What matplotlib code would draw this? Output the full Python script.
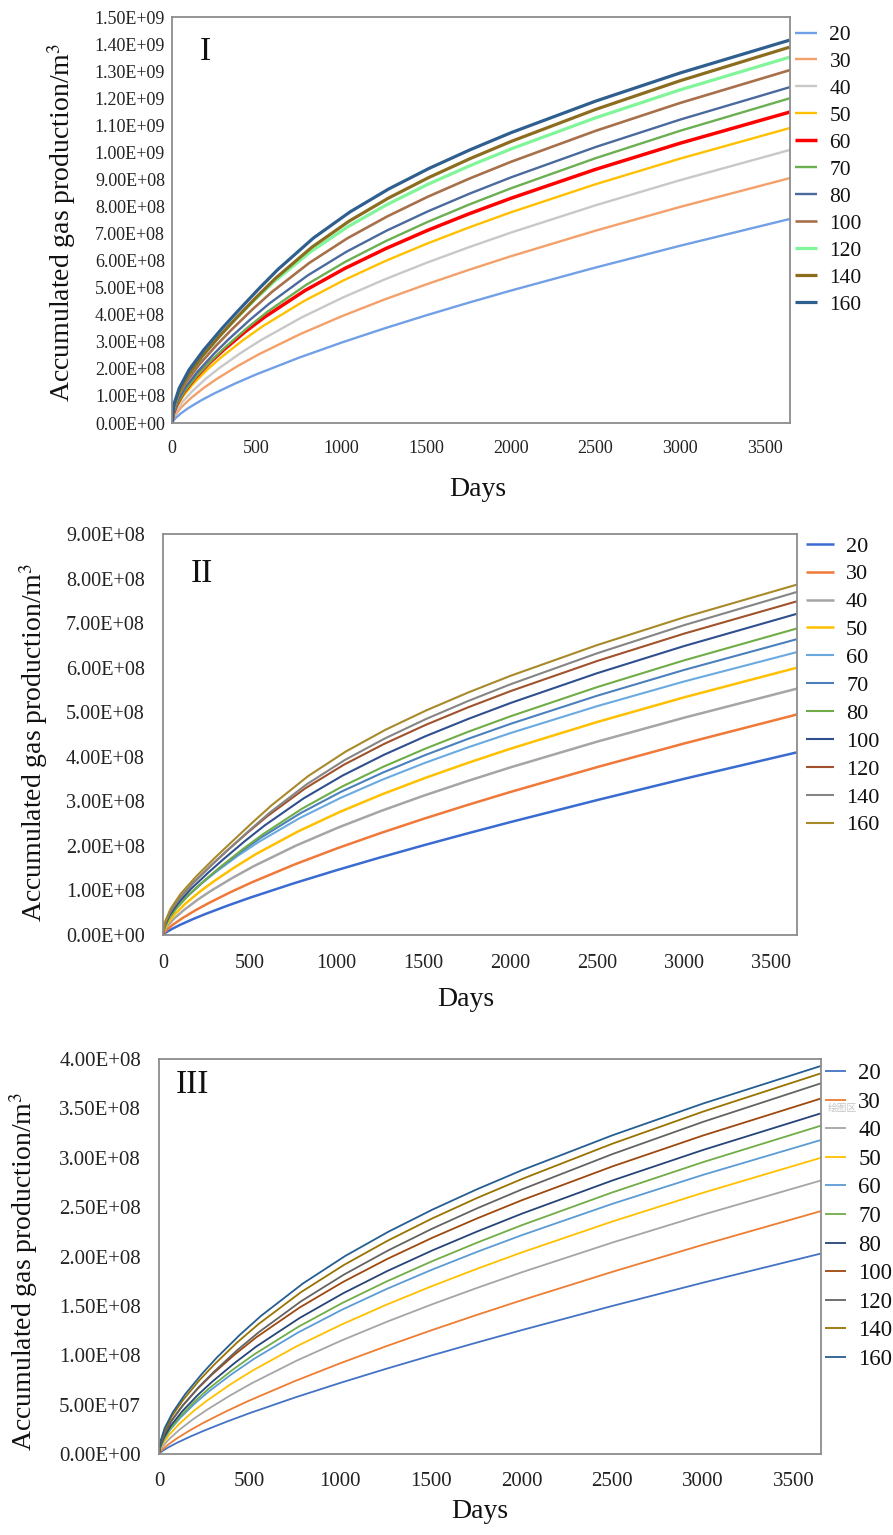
import matplotlib
matplotlib.use("Agg")
import matplotlib.pyplot as plt
from matplotlib.ticker import FuncFormatter, MultipleLocator

plt.rcParams['font.family'] = ['Liberation Serif', 'DejaVu Serif']
plt.rcParams['mathtext.fontset'] = 'stix'

# ---------------- data (values in 1e8 m^3) ----------------
SCALE = 1e8
labels = ["20", "30", "40", "50", "60", "70", "80", "100", "120", "140", "160"]

# sampling days (x positions read for each curve family)
day_sets = [
    [0, 5, 20, 50, 100, 175, 250, 375, 500, 750, 1000, 1250, 1500, 1750, 2000, 2500, 3000, 3650],
    [0, 6, 22, 55, 109, 187, 264, 389, 512, 758, 1005, 1253, 1502, 1751, 2000, 2500, 3000, 3650],
    [0, 6, 25, 60, 118, 199, 277, 403, 525, 767, 1010, 1256, 1503, 1752, 2001, 2500, 3000, 3650],
    [0, 7, 27, 65, 126, 211, 291, 417, 537, 776, 1016, 1259, 1505, 1753, 2001, 2500, 3000, 3650],
    [0, 7, 29, 70, 135, 223, 305, 430, 550, 784, 1021, 1262, 1506, 1753, 2002, 2500, 3000, 3650],
    [0, 8, 31, 76, 144, 236, 318, 444, 562, 793, 1026, 1265, 1508, 1754, 2002, 2501, 3000, 3650],
    [0, 9, 34, 81, 153, 248, 332, 458, 575, 801, 1031, 1268, 1510, 1755, 2003, 2501, 3000, 3650],
    [0, 9, 36, 86, 161, 260, 346, 472, 587, 810, 1036, 1271, 1511, 1756, 2003, 2501, 3000, 3650],
    [0, 10, 38, 91, 170, 272, 359, 486, 600, 818, 1041, 1274, 1513, 1757, 2004, 2501, 3000, 3650],
    [0, 10, 40, 96, 179, 284, 373, 500, 612, 827, 1047, 1277, 1515, 1758, 2004, 2501, 3000, 3650],
    [0, 11, 43, 101, 188, 296, 387, 514, 625, 835, 1052, 1279, 1516, 1759, 2004, 2501, 3000, 3650],
]
days_idx_I = [0, 1, 2, 3, 4, 5, 6, 7, 8, 9, 10]
days_idx_II = [0, 1, 2, 3, 4, 5, 6, 7, 8, 9, 10]
days_idx_III = [0, 0, 1, 1, 2, 2, 3, 3, 4, 4, 5]

gas_I = [
    [0, 0.0654, 0.178, 0.3435, 0.566, 0.8463, 1.094, 1.4649, 1.802, 2.4132, 2.968, 3.4859, 3.975, 4.4413, 4.890, 5.741, 6.547, 7.54],
    [0, 0.1330, 0.323, 0.5811, 0.905, 1.2952, 1.627, 2.1093, 2.536, 3.2873, 3.951, 4.5584, 5.122, 5.6536, 6.158, 7.103, 7.982, 9.05],
    [0, 0.1931, 0.444, 0.7692, 1.165, 1.6306, 2.020, 2.5758, 3.061, 3.9045, 4.639, 5.3048, 5.918, 6.4914, 7.033, 8.040, 8.970, 10.09],
    [0, 0.2716, 0.591, 0.9865, 1.454, 1.9891, 2.429, 3.0477, 3.581, 4.4935, 5.279, 5.9816, 6.625, 7.2218, 7.783, 8.818, 9.766, 10.90],
    [0, 0.3267, 0.691, 1.1330, 1.647, 2.2281, 2.701, 3.3623, 3.927, 4.8890, 5.711, 6.4420, 7.109, 7.7254, 8.303, 9.367, 10.335, 11.49],
    [0, 0.3412, 0.721, 1.1833, 1.720, 2.3270, 2.821, 3.5116, 4.102, 5.1060, 5.964, 6.7279, 7.424, 8.0683, 8.671, 9.782, 10.794, 12.00],
    [0, 0.4026, 0.828, 1.3335, 1.911, 2.5573, 3.079, 3.8007, 4.414, 5.4502, 6.330, 7.1084, 7.816, 8.4676, 9.077, 10.194, 11.207, 12.41],
    [0, 0.4826, 0.965, 1.5266, 2.158, 2.8555, 3.413, 4.1796, 4.826, 5.9110, 6.825, 7.6311, 8.360, 9.0292, 9.652, 10.792, 11.822, 13.04],
    [0, 0.5709, 1.110, 1.7246, 2.405, 3.1461, 3.733, 4.5351, 5.207, 6.3256, 7.263, 8.0835, 8.823, 9.5002, 10.129, 11.274, 12.306, 13.52],
    [0, 0.5866, 1.140, 1.7718, 2.471, 3.2322, 3.835, 4.6593, 5.349, 6.4987, 7.462, 8.3047, 9.065, 9.7602, 10.406, 11.583, 12.643, 13.89],
    [0, 0.6817, 1.290, 1.9667, 2.704, 3.4989, 4.122, 4.9675, 5.670, 6.8332, 7.801, 8.6434, 9.400, 10.0901, 10.730, 11.890, 12.930, 14.15],
]

gas_II = [
    [0, 0.0210, 0.064, 0.1326, 0.231, 0.3609, 0.480, 0.6640, 0.836, 1.1562, 1.455, 1.7398, 2.013, 2.2771, 2.534, 3.029, 3.505, 4.10],
    [0, 0.0430, 0.117, 0.2255, 0.371, 0.5556, 0.718, 0.9617, 1.183, 1.5842, 1.949, 2.2885, 2.610, 2.9157, 3.210, 3.769, 4.298, 4.95],
    [0, 0.0813, 0.197, 0.3551, 0.553, 0.7915, 0.994, 1.2889, 1.550, 2.0087, 2.414, 2.7854, 3.130, 3.4546, 3.763, 4.340, 4.877, 5.53],
    [0, 0.1148, 0.264, 0.4574, 0.693, 0.9697, 1.201, 1.5317, 1.820, 2.3218, 2.759, 3.1545, 3.519, 3.8601, 4.182, 4.781, 5.334, 6.00],
    [0, 0.1582, 0.344, 0.5747, 0.847, 1.1588, 1.415, 1.7755, 2.086, 2.6178, 3.075, 3.4847, 3.860, 4.2072, 4.534, 5.137, 5.690, 6.35],
    [0, 0.1655, 0.360, 0.6009, 0.886, 1.2117, 1.479, 1.8566, 2.181, 2.7373, 3.216, 3.6438, 4.036, 4.3993, 4.741, 5.372, 5.949, 6.64],
    [0, 0.1714, 0.373, 0.6226, 0.918, 1.2555, 1.533, 1.9237, 2.260, 2.8363, 3.332, 3.7755, 4.182, 4.5583, 4.912, 5.566, 6.164, 6.88],
    [0, 0.2050, 0.433, 0.7110, 1.033, 1.3982, 1.695, 2.1099, 2.464, 3.0679, 3.583, 4.0424, 4.461, 4.8477, 5.210, 5.878, 6.485, 7.21],
    [0, 0.2430, 0.500, 0.8048, 1.153, 1.5435, 1.858, 2.2939, 2.664, 3.2895, 3.821, 4.2903, 4.717, 5.1106, 5.478, 6.152, 6.764, 7.49],
    [0, 0.2498, 0.514, 0.8274, 1.186, 1.5867, 1.910, 2.3582, 2.739, 3.3817, 3.928, 4.4106, 4.849, 5.2539, 5.632, 6.325, 6.954, 7.70],
    [0, 0.2911, 0.582, 0.9208, 1.302, 1.7223, 2.058, 2.5209, 2.911, 3.5652, 4.117, 4.6027, 5.042, 5.4459, 5.822, 6.509, 7.130, 7.865],
]

gas_III = [
    [0, 0.0104, 0.0315, 0.0656, 0.1143, 0.1787, 0.2377, 0.3288, 0.4139, 0.5724, 0.7204, 0.8614, 0.9967, 1.1274, 1.2545, 1.4996, 1.7352, 2.03],
    [0, 0.0164, 0.0470, 0.0944, 0.1599, 0.2445, 0.3208, 0.4364, 0.5432, 0.7390, 0.9195, 1.0896, 1.2516, 1.4070, 1.5572, 1.8450, 2.1193, 2.46],
    [0, 0.0313, 0.0803, 0.1498, 0.2399, 0.3511, 0.4474, 0.5894, 0.7169, 0.9445, 1.1484, 1.3367, 1.5133, 1.6803, 1.8401, 2.1415, 2.4240, 2.77],
    [0, 0.0441, 0.1071, 0.1926, 0.3000, 0.4294, 0.5394, 0.6992, 0.8406, 1.0897, 1.3098, 1.5111, 1.6980, 1.8741, 2.0412, 2.3547, 2.6460, 3.00],
    [0, 0.0609, 0.1399, 0.2424, 0.3673, 0.5139, 0.6366, 0.8118, 0.9648, 1.2306, 1.4622, 1.6719, 1.8651, 2.0459, 2.2165, 2.5338, 2.8270, 3.18],
    [0, 0.0636, 0.1463, 0.2535, 0.3840, 0.5374, 0.6657, 0.8488, 1.0088, 1.2867, 1.5288, 1.7481, 1.9501, 2.1391, 2.3175, 2.6494, 2.9559, 3.325],
    [0, 0.0753, 0.1684, 0.2866, 0.4281, 0.5925, 0.7286, 0.9217, 1.0892, 1.3780, 1.6281, 1.8531, 2.0600, 2.2524, 2.4340, 2.7700, 3.0791, 3.45],
    [0, 0.0897, 0.1951, 0.3258, 0.4802, 0.6570, 0.8021, 1.0066, 1.1826, 1.4841, 1.7435, 1.9756, 2.1881, 2.3852, 2.5704, 2.9124, 3.2256, 3.60],
    [0, 0.0936, 0.2035, 0.3397, 0.5008, 0.6851, 0.8364, 1.0497, 1.2332, 1.5476, 1.8181, 2.0601, 2.2817, 2.4872, 2.6804, 3.0370, 3.3636, 3.754],
    [0, 0.1096, 0.2317, 0.3801, 0.5524, 0.7476, 0.9063, 1.1281, 1.3176, 1.6403, 1.9159, 2.1613, 2.3851, 2.5920, 2.7856, 3.1426, 3.4676, 3.855],
    [0, 0.1275, 0.2621, 0.4223, 0.6052, 0.8099, 0.9750, 1.2036, 1.3979, 1.7260, 2.0047, 2.2511, 2.4751, 2.6815, 2.8744, 3.2281, 3.5492, 3.93],
]

colors_I = ["#72A0E6", "#F4A06A", "#C8C8C8", "#FFC000", "#FF0000", "#6BAF52",
            "#4A6A9E", "#A8704A", "#80F59A", "#8C6D1F", "#2E5F8F"]
widths_I = [1.7, 1.7, 1.7, 1.7, 2.5, 1.7, 1.7, 1.9, 2.3, 2.3, 2.3]
colors_II = ["#3A6BD0", "#F07838", "#A5A5A5", "#FFC000", "#6AAAE0", "#4A80BB",
             "#70AD47", "#2F4F8F", "#A0522D", "#858585", "#A88A2A"]
widths_II = [1.8, 1.8, 1.8, 1.8, 1.5, 1.5, 1.5, 1.5, 1.5, 1.5, 1.5]
colors_III = ["#4472C4", "#ED7D31", "#A5A5A5", "#FFC000", "#5B9BD5", "#70AD47",
              "#264478", "#9E480E", "#636363", "#997300", "#255E91"]
widths_III = [1.3] * 11

W, H = 893, 1535
fig = plt.figure(figsize=(W / 100, H / 100), dpi=100)


def px_axes(l, t, r, b):
    return fig.add_axes([l / W, 1 - b / H, (r - l) / W, (b - t) / H])


def sci(v, pos):
    return f"{v:.2E}"


panels = [
    dict(box=(172, 17, 790, 423), data=gas_I, didx=days_idx_I, colors=colors_I,
         widths=widths_I, ymax=1.5e9, ystep=1e8, tick_fs=13, ypad=5, xpad=12,
         roman="I", roman_xy=(0.045, 0.915), ylab_x=62, ylab_y=222, xlab_y=490,
         xlab_x=478, leg=(795, 25), leg_fs=15.5, leg_sp=0.32, leg_hl=1.0, leg_tp=0.6),
    dict(box=(163, 534, 797, 935), data=gas_II, didx=days_idx_II, colors=colors_II,
         widths=widths_II, ymax=9e8, ystep=1e8, tick_fs=14.5, ypad=13, xpad=14,
         roman="II", roman_xy=(0.043, 0.90), ylab_x=34, ylab_y=742, xlab_y=1000,
         xlab_x=466, leg=(806, 536), leg_fs=16, leg_sp=0.33, leg_hl=1.25, leg_tp=0.55),
    dict(box=(159, 1059, 821, 1454), data=gas_III, didx=days_idx_III, colors=colors_III,
         widths=widths_III, ymax=4e8, ystep=5e7, tick_fs=15, ypad=13, xpad=13,
         roman="III", roman_xy=(0.025, 0.934), ylab_x=24, ylab_y=1271, xlab_y=1512,
         xlab_x=480, leg=(825, 1063), leg_fs=16.5, leg_sp=0.33, leg_hl=0.9, leg_tp=0.55),
]

for p in panels:
    l, t, r, b = p["box"]
    ax = px_axes(l, t, r, b)
    for vals, di, lab, c, lw in zip(p["data"], p["didx"], labels, p["colors"], p["widths"]):
        ax.plot(day_sets[di], [v * SCALE for v in vals], color=c, lw=lw, label=lab,
                solid_capstyle='butt', solid_joinstyle='round')
    ax.set_xlim(0, 3650)
    ax.set_ylim(0, p["ymax"])
    ax.xaxis.set_major_locator(MultipleLocator(500))
    ax.yaxis.set_major_locator(MultipleLocator(p["ystep"]))
    ax.yaxis.set_major_formatter(FuncFormatter(sci))
    ax.tick_params(axis='both', length=0, labelsize=p["tick_fs"], colors='#222222')
    ax.tick_params(axis='y', pad=p["ypad"])
    ax.tick_params(axis='x', pad=p["xpad"])
    for s in ax.spines.values():
        s.set_color('#8C8C8C')
        s.set_linewidth(1.3)
    ax.text(p["roman_xy"][0], p["roman_xy"][1], p["roman"], transform=ax.transAxes,
            fontsize=24, ha='left', va='center', color='#111111')
    fig.text(p["ylab_x"] / W, 1 - p["ylab_y"] / H,
             "Accumulated gas production/m$^3$", rotation=90,
             ha='center', va='center', fontsize=20, color='#111111')
    fig.text(p["xlab_x"] / W, 1 - p["xlab_y"] / H, "Days",
             ha='center', va='center', fontsize=20, color='#111111')
    leg = ax.legend(loc='upper left',
                    bbox_to_anchor=(p["leg"][0] / W, 1 - p["leg"][1] / H),
                    bbox_transform=fig.transFigure, frameon=False,
                    fontsize=p["leg_fs"], labelspacing=p["leg_sp"],
                    handlelength=p["leg_hl"], handletextpad=p["leg_tp"],
                    borderaxespad=0, borderpad=0)
    for txt in leg.get_texts():
        txt.set_color('#111111')

# faint chart-area tooltip remnant in the lower panel
fig.text(842 / W, 1 - 1108 / H, "绘图区", fontsize=7, color='#C4C4C4',
         ha='center', va='center', family=['Noto Sans CJK SC', 'DejaVu Sans'])

fig.savefig("out.png", dpi=100)
